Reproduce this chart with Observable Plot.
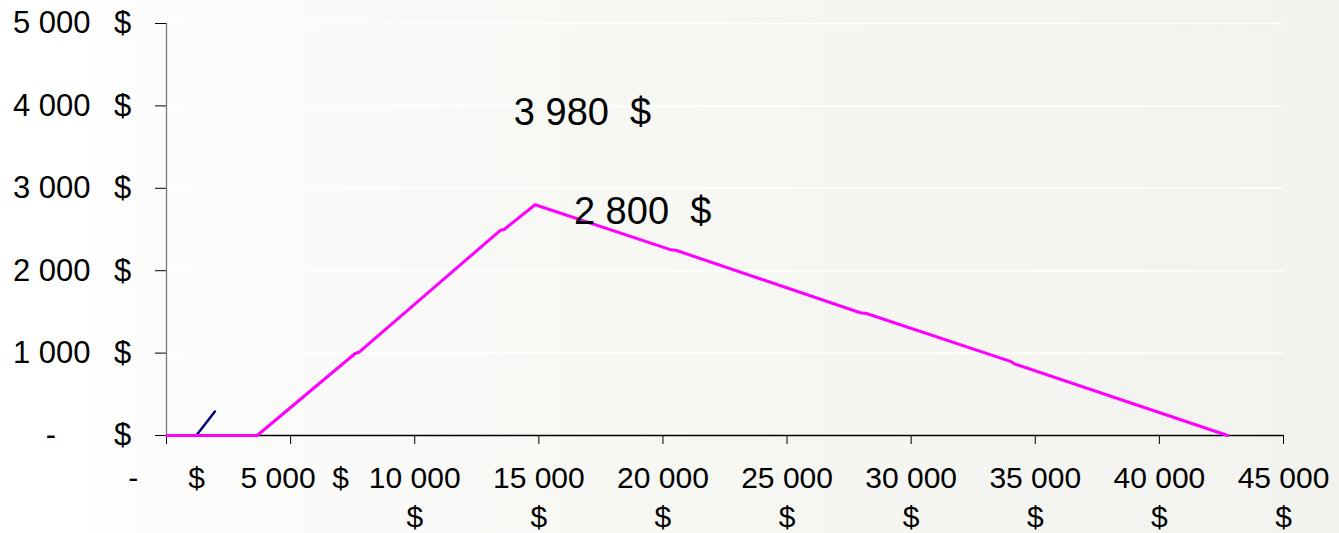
<!DOCTYPE html>
<html>
<head>
<meta charset="utf-8">
<script src="https://cdn.jsdelivr.net/npm/d3@7"></script>
<script src="https://cdn.jsdelivr.net/npm/@observablehq/plot@0.6"></script>
<style>
  html, body { margin: 0; padding: 0; background: #ffffff; }
  #chart svg { display: block; }
</style>
</head>
<body>
<div id="chart"></div>
<script>
// Magenta series (income vs. amount)
const magentaX = [0, 3650, 7600, 7750, 13450, 13600, 14850, 20300, 20550, 27950, 28200, 34000, 34150, 42750];
const magentaY = [0, 0, 995, 1010, 2490, 2500, 2800, 2255, 2245, 1490, 1480, 900, 870, 0];

// Short navy series
const navyX = [1200, 1950];
const navyY = [0, 290];

// Data labels
const labelText = ["3 980\u00a0\u00a0$", "2 800\u00a0\u00a0$"];
const labelX = [16760, 19180];
const labelY = [3920, 2718];

// Axes ticks and labels
const xTicks = [0, 5000, 10000, 15000, 20000, 25000, 30000, 35000, 40000, 45000];
const xTickLabels = [
  "-\u00a0\u00a0\u00a0\u00a0\u00a0\u00a0$",
  "\u00a05 000\u00a0\u00a0$",
  "10 000\n$", "15 000\n$", "20 000\n$", "25 000\n$",
  "30 000\n$", "35 000\n$", "40 000\n$", "45 000\n$"
];
const yTicks = [0, 1000, 2000, 3000, 4000, 5000];
const yTickLabels = ["-\u00a0\u00a0\u00a0\u00a0", "1 000", "2 000", "3 000", "4 000", "5 000"];

const magenta = magentaX.map((x, i) => ({x, y: magentaY[i]}));
const navy = navyX.map((x, i) => ({x, y: navyY[i]}));
const labels = labelText.map((t, i) => ({t, x: labelX[i], y: labelY[i]}));
const xAxisData = xTicks.map((v, i) => ({v, t: xTickLabels[i]}));
const yAxisData = yTicks.map((v, i) => ({v, t: yTickLabels[i]}));

const font = "'Liberation Sans', Arial, Helvetica, sans-serif";

const chart = Plot.plot({
  width: 1339,
  height: 533,
  marginTop: 23,
  marginBottom: 98,
  marginLeft: 166,
  marginRight: 56,
  style: {
    fontFamily: font,
    color: "#000",
    background: "linear-gradient(to right, #ffffff 0px, #ffffff 95px, #fdfdfc 95px, #f7f8f4 600px, #f2f3ee 100%)"
  },
  x: {domain: [0, 45000], axis: null},
  y: {domain: [0, 5000], axis: null},
  marks: [
    Plot.gridY(yTicks, {stroke: "#ffffff", strokeOpacity: 1, strokeWidth: 1.5}),
    // y axis line
    Plot.ruleX([0], {y1: 0, y2: 5000, stroke: "#7a7a7a", strokeWidth: 1.3}),
    // y ticks
    Plot.axisY({ticks: yTicks, tickSize: 11, tickFormat: () => "", stroke: "#000", strokeWidth: 1, label: null}),
    // x axis line
    Plot.ruleY([0], {x1: 0, x2: 45000, stroke: "#000", strokeWidth: 1.3}),
    // x ticks
    Plot.axisX({ticks: xTicks, tickSize: 9, tickFormat: () => "", stroke: "#000", strokeWidth: 1, label: null}),
    // lines
    Plot.line(navy, {x: "x", y: "y", stroke: "#000080", strokeWidth: 2.5}),
    Plot.line(magenta, {x: "x", y: "y", stroke: "#ff00ff", strokeWidth: 3}),
    // y tick labels
    Plot.text(yAxisData, {y: "v", text: "t", frameAnchor: "left", textAnchor: "end", dx: -76, fontSize: 31, fill: "#000"}),
    Plot.text(yAxisData, {y: "v", text: () => "$", frameAnchor: "left", textAnchor: "middle", dx: -44, fontSize: 31, fill: "#000"}),
    // x tick labels
    Plot.text(xAxisData, {x: "v", text: "t", frameAnchor: "bottom", lineAnchor: "top", dy: 25, lineHeight: 1.3, textAnchor: "middle", fontSize: 30, fill: "#000"}),
    // data labels
    Plot.text(labels, {x: "x", y: "y", text: "t", textAnchor: "middle", fontSize: 38, fill: "#000"})
  ]
});

document.getElementById("chart").appendChild(chart);
</script>
</body>
</html>
